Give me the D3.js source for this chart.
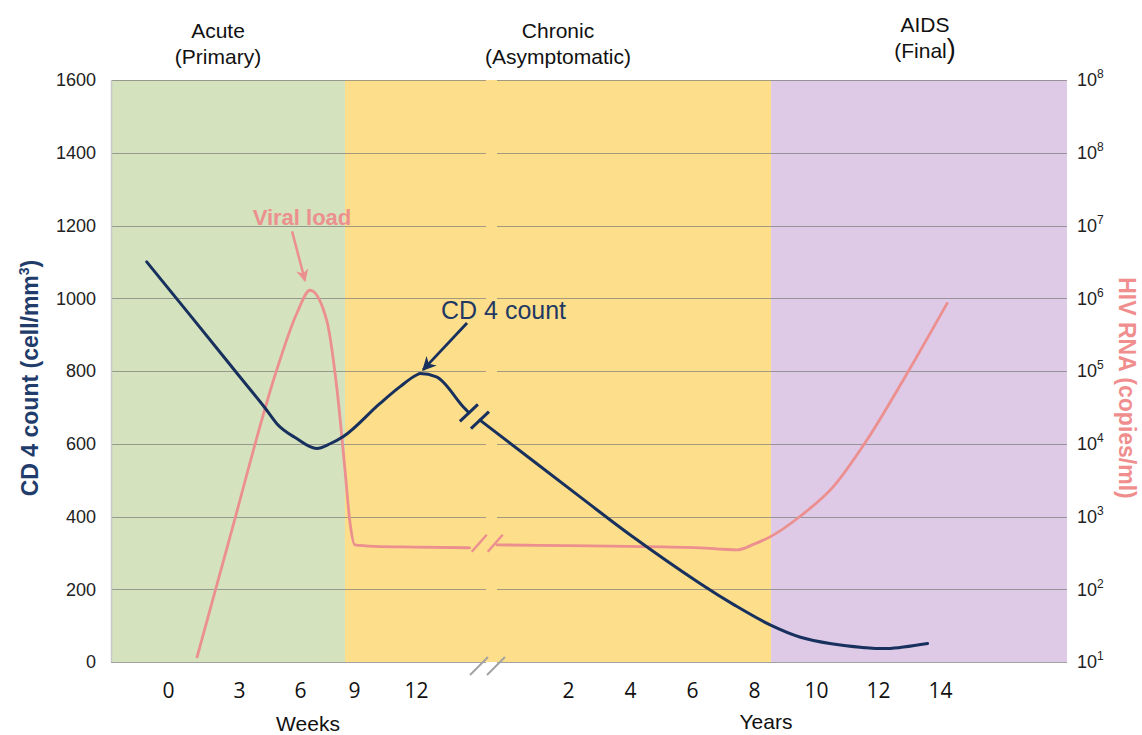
<!DOCTYPE html>
<html>
<head>
<meta charset="utf-8">
<script src="https://cdn.jsdelivr.net/npm/d3@7/dist/d3.min.js"></script>
<style>
  body { margin: 0; background: #fff; }
  svg { display: block; font-family: Arial, "Liberation Sans", sans-serif; }
</style>
</head>
<body>
<svg id="chart" width="1142" height="735"></svg>
<script>
// axis ticks
const cd4Ticks = [0, 200, 400, 600, 800, 1000, 1200, 1400, 1600];
const rnaTicks = [1, 2, 3, 4, 5, 6, 7, 8, 9];
const rnaExponents = [1, 2, 3, 4, 5, 6, 7, 8, 8];
const weekTicks = [0, 3, 6, 9, 12];
const yearTicks = [2, 4, 6, 8, 10, 12, 14];

// phases
const phaseNames = ["Acute", "Chronic", "AIDS"];
const phaseSubtitles = ["(Primary)", "(Asymptomatic)", "(Final"];
const phaseColors = ["#d4e2bd", "#fddf8b", "#dec9e6"];
const acuteEndWeek = 8.5;
const chronicEndYear = 8.55;

// CD4 count (cells/mm3), weeks part then years part
const cd4WeekTimes = [-0.9, 1, 3, 4.3, 4.85, 5.82, 6.93, 7.67, 8.41, 10.26, 11.23, 12.03, 12.2, 12.99, 14.28, 14.56];
const cd4WeekValues = [1100, 948, 787, 697, 656, 615, 587, 600, 620, 711, 757, 789, 793, 784, 702, 685];
const cd4YearTimes = [-0.84, 2.39, 4.0, 6.26, 7.4, 8.52, 9.5, 10.5, 11.5, 12.3, 13.6];
const cd4YearValues = [665, 454, 350, 216, 155, 102, 68, 50, 40, 37, 51];

// HIV RNA, log10 copies/ml
const rnaWeekTimes = [1.23, 2.62, 4.85, 5.84, 6.56, 7.48, 8.04, 8.5, 8.78, 9.04, 10, 12, 14.6];
const rnaWeekLogs = [1.07, 2.72, 5.01, 5.79, 6.11, 5.70, 4.78, 3.64, 2.91, 2.61, 2.59, 2.58, 2.57];
const rnaYearTimes = [-0.29, 2, 4, 6.26, 7.0, 7.44, 8.0, 8.52, 9.48, 10.56, 11.64, 12.82, 14.23];
const rnaYearLogs = [2.61, 2.6, 2.59, 2.57, 2.55, 2.54, 2.62, 2.72, 3.0, 3.41, 4.05, 4.88, 5.93];

const plot = { left: 111, right: 1067, top: 80, bottom: 662 };
const gap = [486, 497];
const breakX = 491;

const CD4_COLOR = "#17305e";
const RNA_COLOR = "#ec8f8f";

const svg = d3.select("#chart");

const yLeft = d3.scaleLinear().domain([0, 1600]).range([plot.bottom, plot.top]);
const yRight = d3.scaleLinear().domain([1, 9]).range([plot.bottom, plot.top]);
const xWeeks = d3.scaleLinear().domain(weekTicks).range([168, 239, 300, 354, 416]);
const xYears = d3.scaleLinear().domain([2, 14]).range([568, 940]);

// phase backgrounds
const phaseEdges = [plot.left, xWeeks(acuteEndWeek), xYears(chronicEndYear), plot.right];
const phaseLabelX = [218, 558, 925];
const phaseLabelY = [38, 38, 32];

svg.append("g")
  .selectAll("rect")
  .data(phaseColors)
  .join("rect")
  .attr("x", (_d, i) => phaseEdges[i])
  .attr("y", plot.top)
  .attr("width", (_d, i) => phaseEdges[i + 1] - phaseEdges[i])
  .attr("height", plot.bottom - plot.top)
  .attr("fill", (d) => d);

// gridlines, broken at the time axis gap
const grid = svg.append("g").attr("stroke", "#7a7a7a").attr("stroke-opacity", 0.7).attr("stroke-width", 1);
for (const segment of [[plot.left, gap[0]], [gap[1], plot.right]]) {
  grid.selectAll(null)
    .data(cd4Ticks)
    .join("line")
    .attr("x1", segment[0])
    .attr("x2", segment[1])
    .attr("y1", (d) => Math.round(yLeft(d)) + 0.5)
    .attr("y2", (d) => Math.round(yLeft(d)) + 0.5);
}
svg.append("line")
  .attr("x1", plot.left + 0.5).attr("x2", plot.left + 0.5)
  .attr("y1", plot.top).attr("y2", plot.bottom)
  .attr("stroke", "#c8c8c8").attr("stroke-width", 1.5);

// left axis
const leftAxis = svg.append("g")
  .attr("transform", `translate(${plot.left},0)`)
  .call(d3.axisLeft(yLeft).tickValues(cd4Ticks).tickFormat(d3.format("d")).tickSize(0).tickPadding(15));
leftAxis.select(".domain").remove();
leftAxis.selectAll("text").attr("font-size", 18).attr("fill", "#222").attr("font-family", "Arial, 'Liberation Sans', sans-serif");

// right axis with superscripts
const rightAxis = svg.append("g")
  .attr("transform", `translate(${plot.right},0)`)
  .call(d3.axisRight(yRight).tickValues(rnaTicks).tickSize(0).tickPadding(10));
rightAxis.select(".domain").remove();
rightAxis.selectAll("text")
  .attr("font-size", 18).attr("fill", "#222").attr("font-family", "Arial, 'Liberation Sans', sans-serif")
  .text(null)
  .each(function (_d, i) {
    const t = d3.select(this);
    t.append("tspan").text("10");
    t.append("tspan").attr("font-size", 12).attr("dy", -8).text(rnaExponents[i]);
  });

// bottom axes
for (const [scale, ticks] of [[xWeeks, weekTicks], [xYears, yearTicks]]) {
  const ax = svg.append("g")
    .attr("transform", `translate(0,${plot.bottom})`)
    .call(d3.axisBottom(scale).tickValues(ticks).tickSize(0).tickPadding(21));
  ax.select(".domain").remove();
  ax.selectAll("text")
    .attr("font-size", 21).attr("fill", "#111")
    .attr("font-family", "'Open Sans', 'DejaVu Sans', sans-serif");
}

svg.append("text").attr("x", 308).attr("y", 731).attr("text-anchor", "middle")
  .attr("font-size", 21).attr("fill", "#111").text("Weeks");
svg.append("text").attr("x", 766).attr("y", 729).attr("text-anchor", "middle")
  .attr("font-size", 21).attr("fill", "#111").text("Years");

// axis break slashes
svg.append("g").attr("stroke", "#a3a3a3").attr("stroke-width", 2)
  .selectAll("line").data([-21, -4]).join("line")
  .attr("x1", (d) => breakX + d).attr("y1", 675)
  .attr("x2", (d) => breakX + d + 18).attr("y2", 657);

// phase labels
const phaseLabels = svg.append("g").attr("text-anchor", "middle").attr("font-size", 21).attr("fill", "#111");
phaseLabels.selectAll("text.name").data(phaseNames).join("text")
  .attr("class", "name")
  .attr("x", (_d, i) => phaseLabelX[i]).attr("y", (_d, i) => phaseLabelY[i])
  .text((d) => d);
phaseLabels.selectAll("text.sub").data(phaseSubtitles).join("text")
  .attr("class", "sub")
  .attr("x", (_d, i) => phaseLabelX[i]).attr("y", (_d, i) => phaseLabelY[i] + 26)
  .each(function (d, i) {
    const t = d3.select(this);
    t.append("tspan").text(d);
    if (i === 2) t.append("tspan").attr("font-size", 27).text(")");
  });

// axis titles
svg.append("text")
  .attr("transform", "translate(38,378) rotate(-90)")
  .attr("text-anchor", "middle").attr("font-size", 23).attr("font-weight", "bold").attr("fill", "#1f3c6b")
  .call((t) => {
    t.append("tspan").text("CD 4 count (cell/mm");
    t.append("tspan").attr("font-size", 14).attr("dy", -9).text("3");
    t.append("tspan").attr("dy", 9).text(")");
  });
svg.append("text")
  .attr("transform", "translate(1119,388) rotate(90)")
  .attr("text-anchor", "middle").attr("font-size", 23).attr("font-weight", "bold").attr("fill", "#f08e8e")
  .text("HIV RNA (copies/ml)");

// curves
const lineWeeksCd4 = d3.line().x((d) => xWeeks(d[0])).y((d) => yLeft(d[1])).curve(d3.curveMonotoneX);
const lineYearsCd4 = d3.line().x((d) => xYears(d[0])).y((d) => yLeft(d[1])).curve(d3.curveCatmullRom.alpha(0.5));
const lineWeeksRna = d3.line().x((d) => xWeeks(d[0])).y((d) => yRight(d[1])).curve(d3.curveMonotoneX);
const lineYearsRna = d3.line().x((d) => xYears(d[0])).y((d) => yRight(d[1])).curve(d3.curveMonotoneX);

const rnaWeekPts = d3.zip(rnaWeekTimes, rnaWeekLogs);
const rnaYearPts = d3.zip(rnaYearTimes, rnaYearLogs);
const cd4WeekPts = d3.zip(cd4WeekTimes, cd4WeekValues);
const cd4YearPts = d3.zip(cd4YearTimes, cd4YearValues);

const curves = svg.append("g").attr("fill", "none").attr("stroke-linecap", "round").attr("stroke-linejoin", "round");
curves.append("path").attr("d", lineWeeksRna(rnaWeekPts)).attr("stroke", RNA_COLOR).attr("stroke-width", 2.8);
curves.append("path").attr("d", lineYearsRna(rnaYearPts)).attr("stroke", RNA_COLOR).attr("stroke-width", 2.8);
curves.append("path").attr("d", lineWeeksCd4(cd4WeekPts)).attr("stroke", CD4_COLOR).attr("stroke-width", 3);
curves.append("path").attr("d", lineYearsCd4(cd4YearPts)).attr("stroke", CD4_COLOR).attr("stroke-width", 3);

// break marks on the curves
const rnaEnd = rnaWeekPts[rnaWeekPts.length - 1];
const rx = xWeeks(rnaEnd[0]);
const ry = yRight(rnaEnd[1]);
svg.append("g").attr("stroke", RNA_COLOR).attr("stroke-width", 2.5)
  .selectAll("line").data([2, 18]).join("line")
  .attr("x1", (d) => rx + d).attr("y1", ry + 4)
  .attr("x2", (d) => rx + d + 15).attr("y2", ry - 13);

const cd4End = cd4WeekPts[cd4WeekPts.length - 1];
const cd4Start = cd4YearPts[0];
const barEnds = [[xWeeks(cd4End[0]), yLeft(cd4End[1])], [xYears(cd4Start[0]), yLeft(cd4Start[1])]];
svg.append("g").attr("stroke", CD4_COLOR).attr("stroke-width", 3)
  .selectAll("line").data(barEnds).join("line")
  .attr("x1", (d) => d[0] - 9).attr("y1", (d) => d[1] + 8.5)
  .attr("x2", (d) => d[0] + 9).attr("y2", (d) => d[1] - 8.5);

// annotations
const defs = svg.append("defs");
for (const [id, color] of [["arrow-rna", RNA_COLOR], ["arrow-cd4", CD4_COLOR]]) {
  defs.append("marker")
    .attr("id", id)
    .attr("viewBox", "0 -5 10 10")
    .attr("refX", 9).attr("refY", 0)
    .attr("markerWidth", 5).attr("markerHeight", 5)
    .attr("markerUnits", "strokeWidth")
    .attr("orient", "auto")
    .append("path")
    .attr("d", "M0,-5L10,0L0,5L3,0Z")
    .attr("fill", color);
}

svg.append("text")
  .attr("x", xWeeks(6.11)).attr("y", yRight(7.01))
  .attr("text-anchor", "middle").attr("font-size", 22).attr("font-weight", "bold").attr("fill", RNA_COLOR)
  .text("Viral load");
svg.append("line")
  .attr("x1", xWeeks(5.61)).attr("y1", yRight(6.92))
  .attr("x2", xWeeks(6.28)).attr("y2", yRight(6.24))
  .attr("stroke", RNA_COLOR).attr("stroke-width", 2.5)
  .attr("marker-end", "url(#arrow-rna)");

svg.append("text")
  .attr("x", xWeeks(13.21)).attr("y", yLeft(943))
  .attr("font-size", 25).attr("fill", "#1f3864")
  .text("CD 4 count");
svg.append("line")
  .attr("x1", xWeeks(14.47)).attr("y1", yLeft(932))
  .attr("x2", xWeeks(12.34)).attr("y2", yLeft(803))
  .attr("stroke", CD4_COLOR).attr("stroke-width", 2.8)
  .attr("marker-end", "url(#arrow-cd4)");
</script>
</body>
</html>
